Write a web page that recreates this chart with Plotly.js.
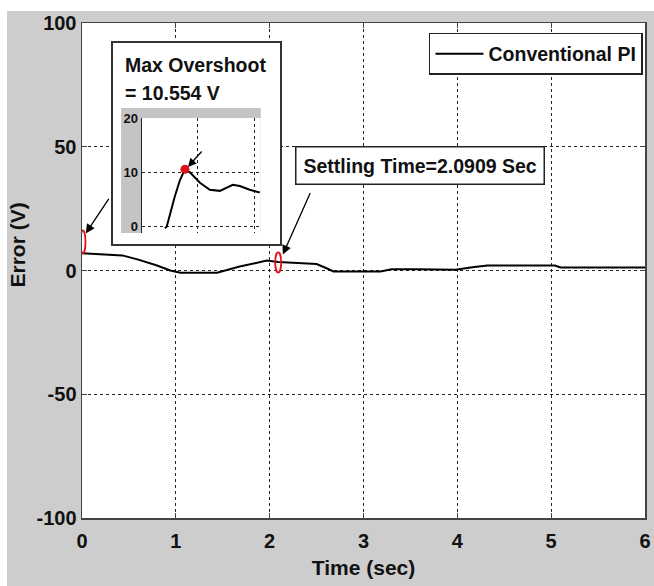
<!DOCTYPE html>
<html>
<head>
<meta charset="utf-8">
<script src="https://cdn.plot.ly/plotly-3.0.1.min.js"></script>
<style>
  html, body { margin: 0; padding: 0; background: #ffffff; }
  #chart { width: 654px; height: 586px; }
</style>
</head>
<body>
<div id="chart"></div>
<script>
// ---- main response (error vs time) ----
const timeSec = [0, 0.2, 0.43, 0.6, 0.8, 0.94, 1.05, 1.44, 1.68, 1.97, 2.09, 2.3, 2.5, 2.6, 2.68, 3.18, 3.3, 3.57, 3.98, 4.16, 4.32, 5.04, 5.1, 6];
const errorV  = [7.0, 6.5, 6.1, 4.4, 2.0, 0.0, -0.9, -0.9, 1.6, 4.0, 3.4, 3.0, 2.6, 1.0, -0.4, -0.4, 0.5, 0.5, 0.3, 1.3, 2.0, 2.0, 1.2, 1.2];

// ---- zoomed inset around the overshoot ----
const zoomTime  = [0.013, 0.014, 0.0183, 0.021, 0.0236, 0.0262, 0.0315, 0.0367, 0.042, 0.0488, 0.0525, 0.0577, 0.063];
const zoomError = [-0.3, 0.0, 5.6, 8.6, 10.554, 10.0, 8.1, 6.8, 6.6, 7.7, 7.5, 6.8, 6.3];
const peakTime  = [0.0236];
const peakError = [10.554];

// ---- axes / labels ----
const xTickVals = [0, 1, 2, 3, 4, 5, 6];
const yTickVals = [-100, -50, 0, 50, 100];
const zoomXGrid = [0.03, 0.06];
const zoomYTicks = [0, 10, 20];
const seriesName = 'Conventional PI';
const settlingTime = 2.0909;
const settlingError = 6.5;
const overshootText = ['Max Overshoot', '= 10.554 V'];

const FONT = 'Arial, "Liberation Sans", sans-serif';
const BOLD = {family: FONT, size: 19.5, color: '#111', weight: 'bold'};

const traces = [
  {
    x: timeSec, y: errorV, type: 'scatter', mode: 'lines',
    name: seriesName, line: {color: '#000', width: 2},
    xaxis: 'x', yaxis: 'y', hoverinfo: 'x+y'
  },
  {
    x: zoomTime, y: zoomError, type: 'scatter', mode: 'lines',
    line: {color: '#000', width: 2}, showlegend: false,
    xaxis: 'x3', yaxis: 'y3'
  },
  {
    x: peakTime, y: peakError, type: 'scatter', mode: 'markers',
    marker: {color: '#e0101a', size: 9, symbol: 'circle'}, showlegend: false,
    xaxis: 'x3', yaxis: 'y3'
  }
];

const gridStyle = {showgrid: true, gridcolor: '#222', gridwidth: 1, griddash: 'dot'};

const layout = {
  width: 654, height: 586,
  margin: {l: 82, r: 9, t: 23, b: 68, pad: 0},
  paper_bgcolor: '#cdcdcd',
  plot_bgcolor: '#ffffff',
  font: {family: FONT, color: '#111'},
  showlegend: true,
  legend: {
    x: 0.6163, y: 0.9798, xanchor: 'left', yanchor: 'top',
    bgcolor: '#ffffff', bordercolor: '#222', borderwidth: 1.5,
    font: BOLD, itemwidth: 48
  },
  xaxis: Object.assign({
    range: [0, 6], tickvals: xTickVals, ticktext: xTickVals.map(String),
    ticks: 'inside', ticklen: 5, tickcolor: '#444', tickwidth: 1,
    showline: true, linecolor: '#444', linewidth: 1.5, mirror: 'ticks',
    zeroline: false, tickfont: {family: FONT, size: 20, color: '#111', weight: 'bold'},
    ticklabelstandoff: 4,
    title: {text: 'Time (sec)', font: {family: FONT, size: 21, color: '#111', weight: 'bold'}, standoff: 10},
    domain: [0, 1], anchor: 'y'
  }, gridStyle),
  yaxis: Object.assign({
    range: [-100, 100], tickvals: yTickVals, ticktext: yTickVals.map(String),
    ticks: 'inside', ticklen: 5, tickcolor: '#444', tickwidth: 1,
    showline: true, linecolor: '#444', linewidth: 1.5, mirror: 'ticks',
    zeroline: false, tickfont: {family: FONT, size: 20, color: '#111', weight: 'bold'},
    domain: [0, 1], anchor: 'x'
  }, gridStyle),
  // inset frame
  xaxis2: {domain: [0.0542, 0.3517], range: [0, 1], anchor: 'y2', showgrid: false, zeroline: false,
           showticklabels: false, ticks: '', showline: true, mirror: true, linecolor: '#333', linewidth: 1.5, fixedrange: true},
  yaxis2: {domain: [0.5535, 0.9596], range: [0, 1], anchor: 'x2', showgrid: false, zeroline: false,
           showticklabels: false, ticks: '', showline: true, mirror: true, linecolor: '#333', linewidth: 1.5, fixedrange: true},
  // inset plot
  xaxis3: Object.assign({domain: [0.1066, 0.3174], range: [0.001, 0.0635], anchor: 'y3',
           tickvals: zoomXGrid, showticklabels: false, ticks: '', zeroline: false, showline: false}, gridStyle),
  yaxis3: Object.assign({domain: [0.5758, 0.808], range: [-1.15, 20], anchor: 'x3',
           tickvals: zoomYTicks, ticktext: zoomYTicks.map(String), ticks: '', zeroline: false,
           showline: true, linecolor: '#222', linewidth: 1.5,
           tickfont: {family: FONT, size: 13, color: '#111', weight: 'bold'}}, gridStyle),
  shapes: [
    // white margins of the original picture
    {type: 'rect', xref: 'paper', yref: 'paper', x0: -0.1456, x1: 1.02, y0: 1.024, y1: 1.05,
     fillcolor: '#ffffff', line: {width: 0}, layer: 'below'},
    {type: 'rect', xref: 'paper', yref: 'paper', x0: -0.1456, x1: -0.1332, y0: -0.14, y1: 1.05,
     fillcolor: '#ffffff', line: {width: 0}, layer: 'below'},
    // grey label area of the inset
    {type: 'rect', xref: 'x2', yref: 'y2', x0: 0.051, x1: 0.885, y0: 0.055, y1: 0.677,
     fillcolor: '#c4c4c4', line: {width: 0}, layer: 'below'},
    // red ellipses
    {type: 'circle', xref: 'x', yref: 'y', x0: -0.017, x1: 0.037, y0: 6.9, y1: 16.2,
     line: {color: '#e0101a', width: 1.8}, layer: 'above'},
    {type: 'circle', xref: 'x', yref: 'y', x0: settlingTime - 0.032, x1: settlingTime + 0.032, y0: -0.8, y1: 7.3,
     line: {color: '#e0101a', width: 1.8}, layer: 'above'}
  ],
  annotations: [
    {xref: 'paper', yref: 'paper', x: -0.1146, y: 0.5515, text: 'Error (V)', textangle: -90,
     showarrow: false, xanchor: 'center', yanchor: 'middle',
     font: {family: FONT, size: 21, color: '#111', weight: 'bold'}},
    {xref: 'paper', yref: 'paper', x: 0.0728, y: 0.9152, text: overshootText[0], showarrow: false,
     xanchor: 'left', yanchor: 'middle', font: BOLD},
    {xref: 'paper', yref: 'paper', x: 0.0728, y: 0.8586, text: overshootText[1], showarrow: false,
     xanchor: 'left', yanchor: 'middle', font: BOLD},
    {xref: 'paper', yref: 'paper', x: 0.6004, y: 0.712,
     text: 'Settling Time=' + settlingTime + ' Sec', showarrow: false,
     xanchor: 'center', yanchor: 'middle', font: BOLD,
     bgcolor: '#ffffff', bordercolor: '#222', borderwidth: 1.5, borderpad: 7},
    // arrows
    {xref: 'x', yref: 'y', x: 0.04, y: 15, ax: 24, ay: -36, text: '', showarrow: true,
     arrowhead: 2, arrowsize: 1.4, arrowwidth: 1.3, arrowcolor: '#000'},
    {xref: 'x', yref: 'y', x: settlingTime + 0.05, y: settlingError, ax: 28, ay: -63, text: '', showarrow: true,
     arrowhead: 2, arrowsize: 1.4, arrowwidth: 1.3, arrowcolor: '#000'},
    {xref: 'x3', yref: 'y3', x: 0.0252, y: 11.0, ax: 15, ay: -17, text: '', showarrow: true,
     arrowhead: 2, arrowsize: 1.3, arrowwidth: 1.3, arrowcolor: '#000'}
  ]
};

Plotly.newPlot('chart', traces, layout, {displayModeBar: false, staticPlot: true});
</script>
</body>
</html>
